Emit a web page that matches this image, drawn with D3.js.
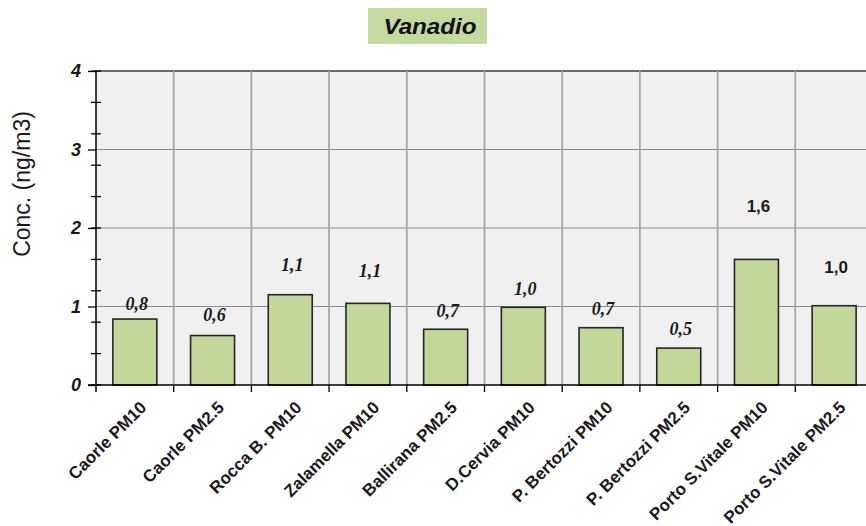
<!DOCTYPE html>
<html>
<head>
<meta charset="utf-8">
<script src="https://cdn.jsdelivr.net/npm/d3@7"></script>
<style>
  html, body { margin: 0; padding: 0; background: #ffffff; }
  svg { display: block; }
</style>
</head>
<body>
<script>
// ---- data ----
const categories = ["Caorle PM10", "Caorle PM2.5", "Rocca B. PM10", "Zalamella PM10", "Ballirana PM2.5",
  "D.Cervia PM10", "P. Bertozzi PM10", "P. Bertozzi PM2.5", "Porto S.Vitale PM10", "Porto S.Vitale PM2.5"];
const values = [0.84, 0.63, 1.15, 1.04, 0.71, 0.99, 0.73, 0.47, 1.60, 1.01];
const valueLabels = ["0,8", "0,6", "1,1", "1,1", "0,7", "1,0", "0,7", "0,5", "1,6", "1,0"];
const yTickValues = [0, 1, 2, 3, 4];
const yTickLabels = ["0", "1", "2", "3", "4"];
const titleText = "Vanadio";
const yTitle = "Conc. (ng/m3)";

// ---- layout / style (not data) ----
const W = 866, H = 526;
const pLeft = 96, pRight = 873, pTop = 71, pBottom = 385;
const labelLift = [15, 21, 30, 33, 19, 19, 19, 19, 53, 39];
const labelSans = [false, false, false, false, false, false, false, false, true, true];
const barFill = "#c4d79b";

const svg = d3.select("body").append("svg").attr("width", W).attr("height", H);

const y = d3.scaleLinear().domain([0, 4]).range([pBottom, pTop]);
const xCat = d3.scaleBand().domain(categories).range([pLeft, pRight]);
const x = d3.scaleBand().domain(categories).range([pLeft, pRight]).paddingInner(0.434).paddingOuter(0.217);

// plot background
svg.append("rect").attr("x", pLeft).attr("y", pTop).attr("width", pRight - pLeft).attr("height", pBottom - pTop)
  .attr("fill", "#f0f0f0");

// horizontal gridlines
svg.append("g").selectAll("line").data(yTickValues.filter(v => v > 0 && v < 4)).join("line")
  .attr("x1", pLeft).attr("x2", pRight).attr("y1", d => y(d)).attr("y2", d => y(d))
  .attr("stroke", "#8c8c8c").attr("stroke-width", 1.2);
// top line
svg.append("line").attr("x1", pLeft).attr("x2", pRight).attr("y1", y(4)).attr("y2", y(4))
  .attr("stroke", "#3c3c3c").attr("stroke-width", 1.5);

// vertical gridlines at category boundaries
svg.append("g").selectAll("line").data(categories.slice(1)).join("line")
  .attr("x1", d => xCat(d)).attr("x2", d => xCat(d)).attr("y1", pTop).attr("y2", pBottom)
  .attr("stroke", "#a6a6a6").attr("stroke-width", 1.8);

// bars
svg.append("g").selectAll("rect").data(values).join("rect")
  .attr("x", (d, i) => x(categories[i]))
  .attr("y", d => y(d))
  .attr("width", x.bandwidth())
  .attr("height", d => pBottom - y(d))
  .attr("fill", barFill).attr("stroke", "#262626").attr("stroke-width", 1.6);

// value labels
svg.append("g").selectAll("text").data(values).join("text")
  .attr("x", (d, i) => x(categories[i]) + x.bandwidth() / 2 + 2)
  .attr("y", (d, i) => y(d) - labelLift[i])
  .attr("text-anchor", "middle").attr("dy", "0.35em")
  .attr("font-family", (d, i) => labelSans[i] ? "Liberation Sans, Arial, sans-serif" : "Liberation Serif, Times New Roman, serif")
  .attr("font-style", (d, i) => labelSans[i] ? "normal" : "italic")
  .attr("font-weight", "bold")
  .attr("font-size", (d, i) => labelSans[i] ? 17 : 18)
  .attr("fill", "#1a1a1a")
  .text((d, i) => valueLabels[i]);

// y axis
const yAxis = d3.axisLeft(y).tickValues(yTickValues).tickSize(8).tickPadding(7)
  .tickFormat((d, i) => yTickLabels[i]);
const gy = svg.append("g").attr("transform", `translate(${pLeft},0)`).call(yAxis);
gy.select(".domain").attr("stroke", "#000").attr("stroke-width", 1.5).attr("d", `M0,${pTop}V${pBottom + 7}`);
gy.selectAll(".tick line").attr("stroke", "#000").attr("stroke-width", 1.3);
gy.selectAll(".tick text").attr("font-family", "Liberation Sans, Arial, sans-serif")
  .attr("font-weight", "bold").attr("font-style", "italic").attr("font-size", 18).attr("fill", "#1a1a1a");

// minor crossing ticks every 0.4
svg.append("g").selectAll("line").data(d3.range(0, 4.001, 0.4)).join("line")
  .attr("x1", pLeft - 5).attr("x2", pLeft + 5).attr("y1", d => y(d)).attr("y2", d => y(d))
  .attr("stroke", "#000").attr("stroke-width", 1.3);

// x axis line
svg.append("line").attr("x1", pLeft - 8).attr("x2", pRight).attr("y1", pBottom).attr("y2", pBottom)
  .attr("stroke", "#000").attr("stroke-width", 1.5);
// x ticks at boundaries
svg.append("g").selectAll("line").data(categories.slice(1)).join("line")
  .attr("x1", d => xCat(d)).attr("x2", d => xCat(d)).attr("y1", pBottom).attr("y2", pBottom + 7)
  .attr("stroke", "#000").attr("stroke-width", 1.3);

// x labels rotated
svg.append("g").selectAll("text").data(categories).join("text")
  .attr("transform", d => `translate(${xCat(d) + xCat.bandwidth() / 2 + 4},${pBottom + 15}) rotate(-45)`)
  .attr("text-anchor", "end").attr("dy", "0.71em")
  .attr("font-family", "Liberation Sans, Arial, sans-serif").attr("font-weight", "bold")
  .attr("font-size", 17).attr("fill", "#1a1a1a")
  .text(d => d);

// y title
svg.append("text")
  .attr("transform", `translate(30,184) rotate(-90)`)
  .attr("text-anchor", "middle")
  .attr("font-family", "Liberation Sans, Arial, sans-serif").attr("font-size", 23).attr("fill", "#1a1a1a")
  .text(yTitle);

// title box
svg.append("rect").attr("x", 368).attr("y", 8).attr("width", 119).attr("height", 36).attr("fill", "#c6d9a0");
svg.append("text")
  .attr("transform", `translate(430,34) scale(1.1,1)`)
  .attr("text-anchor", "middle")
  .attr("font-family", "Liberation Sans, Arial, sans-serif").attr("font-weight", "bold").attr("font-style", "italic")
  .attr("font-size", 22).attr("fill", "#111")
  .text(titleText);
</script>
</body>
</html>
